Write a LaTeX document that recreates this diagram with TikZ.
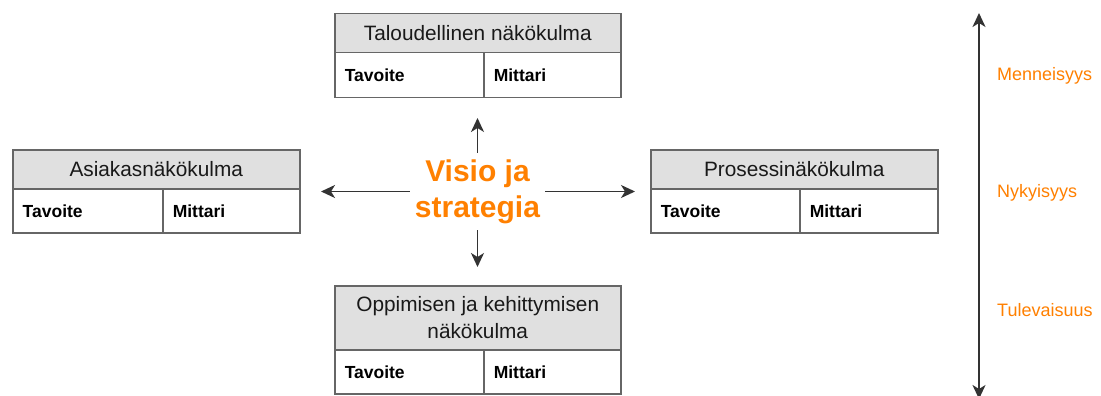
\documentclass[tikz,border=0pt]{standalone}
\usepackage{fontspec}
\setmainfont{Liberation Sans}
\usetikzlibrary{arrows.meta}
\definecolor{boxline}{HTML}{666666}
\definecolor{headfill}{HTML}{E0E0E0}
\definecolor{accent}{HTML}{FF8000}
\definecolor{ink}{HTML}{333333}
\tikzset{
  head/.style={draw=boxline, fill=headfill, line width=1.5pt, inner sep=0pt,
    anchor=north west, align=center, text=black!90,
    font=\fontsize{20.8}{27}\selectfont},
  cell/.style={draw=boxline, fill=white, line width=1.5pt, inner xsep=10pt,
    inner ysep=0pt, anchor=north west, align=left, text=black,
    font=\bfseries\fontsize{17.5}{20}\selectfont},
  tip/.tip={Stealth[length=14pt,width=13pt,inset=4pt]},
  arr/.style={draw=ink, line width=1.7pt, -tip},
  dblarr/.style={draw=ink, line width=1.7pt, tip-tip},
  era/.style={anchor=west, inner sep=0pt, text=accent, font=\fontsize{18}{20}\selectfont},
}
\begin{document}
\begin{tikzpicture}[x=1pt,y=-1pt]
\clip (0,0) rectangle (1101,396);
\fill[white] (0,0) rectangle (1101,396);

% Financial perspective (top)
\node[head, minimum width=286, minimum height=39] (fin) at (334,13) {Taloudellinen näkökulma};
\node[cell, text width=129, minimum height=45] (finT) at (334,52) {Tavoite};
\node[cell, text width=117, minimum height=45] (finM) at (483,52) {Mittari};

% Customer perspective (left)
\node[head, minimum width=287, minimum height=39] (cus) at (12,149) {Asiakasnäkökulma};
\node[cell, text width=130, minimum height=44] (cusT) at (12,188) {Tavoite};
\node[cell, text width=117, minimum height=44] (cusM) at (162,188) {Mittari};

% Process perspective (right)
\node[head, minimum width=287, minimum height=39] (pro) at (650,149) {Prosessinäkökulma};
\node[cell, text width=129, minimum height=44] (proT) at (650,188) {Tavoite};
\node[cell, text width=118, minimum height=44] (proM) at (799,188) {Mittari};

% Learning and growth perspective (bottom)
\node[head, minimum width=286, minimum height=64] (lea) at (334,285) {Oppimisen ja kehittymisen\\näkökulma};
\node[cell, text width=129, minimum height=44] (leaT) at (334,349) {Tavoite};
\node[cell, text width=117, minimum height=44] (leaM) at (483,349) {Mittari};

% Vision and strategy in the middle
\node[minimum width=135, minimum height=77, inner sep=0pt, align=center,
  text=accent, font=\bfseries\fontsize{30}{36}\selectfont] (vis) at (477.5,191.5)
  {Visio ja\\strategia};

\coordinate (upTip) at (477.5,118);
\coordinate (downTip) at (477.5,267);
\coordinate (leftTip) at (321,191.5);
\coordinate (rightTip) at (635,191.5);
\draw[arr] (vis.north) -- (upTip);
\draw[arr] (vis.south) -- (downTip);
\draw[arr] (vis.west) -- (leftTip);
\draw[arr] (vis.east) -- (rightTip);

% Time axis
\coordinate (axTop) at (979,13);
\coordinate (axBot) at (979,399);
\draw[dblarr] (axBot) -- (axTop);
\node[era] (past) at (997,76) {Menneisyys};
\node[era] (now) at (997,193) {Nykyisyys};
\node[era] (future) at (997,310) {Tulevaisuus};
\end{tikzpicture}
\end{document}
